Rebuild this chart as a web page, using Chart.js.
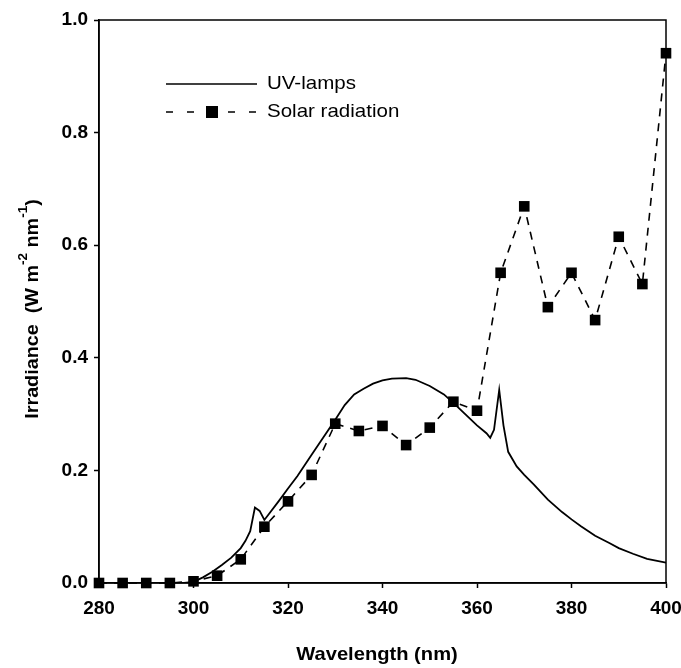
<!DOCTYPE html>
<html>
<head>
<meta charset="utf-8">
<script src="https://cdn.jsdelivr.net/npm/chart.js@4/dist/chart.umd.min.js"></script>
<style>
html,body{margin:0;padding:0;background:#fff;}
#wrap{width:681px;height:668px;position:relative;}
</style>
</head>
<body>
<div id="wrap"><canvas id="c" width="681" height="668"></canvas></div>
<script>
// Solar radiation (markers every 5 nm)
const solarWavelengths = [280,285,290,295,300,305,310,315,320,325,330,335,340,345,350,355,360,365,370,375,380,385,390,395,400];
const solarIrradiance  = [0,0,0,0,0.003,0.013,0.042,0.10,0.145,0.192,0.283,0.27,0.279,0.245,0.276,0.322,0.306,0.551,0.669,0.49,0.551,0.467,0.615,0.531,0.941];

// UV-lamps spectrum (continuous line)
const uvWavelengths = [280,285,290,295,298,300,302,304,306,308,310,311,312,313,314,315,318,320,322,325,328,330,332,334,336,338,340,342,345,347,350,353,355,358,360,362,362.8,363.6,364.7,365.6,366.6,368.4,370,372,375,378,380,382,385,388,390,393,396,400];
const uvIrradiance  = [0,0,0,0,0,0.002,0.01,0.02,0.032,0.045,0.062,0.075,0.092,0.134,0.128,0.112,0.145,0.168,0.19,0.228,0.265,0.29,0.316,0.335,0.345,0.354,0.36,0.363,0.364,0.361,0.35,0.335,0.32,0.296,0.28,0.266,0.258,0.272,0.343,0.28,0.233,0.207,0.192,0.175,0.148,0.126,0.113,0.101,0.084,0.071,0.062,0.052,0.043,0.036];

const xTicks = [280,300,320,340,360,380,400];
const yTicks = [0.0,0.2,0.4,0.6,0.8,1.0];
const seriesNames = ['UV-lamps','Solar radiation'];

const PLOT_LEFT = 99, PLOT_BOTTOM = 583;
const FONT = '"Liberation Sans", Arial, sans-serif';

const decor = {
  id:'decor',
  afterDraw(chart){
    const ctx = chart.ctx, a = chart.chartArea;
    ctx.save();
    // frame
    ctx.strokeStyle='#000'; ctx.lineWidth=1.5;
    ctx.strokeRect(a.left, a.top, a.right-a.left, a.bottom-a.top);
    // x title
    ctx.fillStyle='#000';
    ctx.save();
    ctx.translate(377, 655);
    ctx.scale(1.06, 1);
    ctx.font='bold 19px ' + FONT;
    ctx.textAlign='center'; ctx.textBaseline='middle';
    ctx.fillText('Wavelength (nm)', 0, 0);
    ctx.restore();
    // y title with superscripts
    ctx.save();
    ctx.translate(33, 309);
    ctx.rotate(-Math.PI/2);
    ctx.scale(1.04, 1);
    const parts = [
      ['Irradiance  (W m',false],['-2',true],[' nm',false],['-1',true],[')',false]
    ];
    const big='bold 19px ' + FONT;
    const small='bold 13px ' + FONT;
    let total=0;
    parts.forEach(p=>{ctx.font=p[1]?small:big; total+=ctx.measureText(p[0]).width;});
    let x=-total/2;
    ctx.textAlign='left'; ctx.textBaseline='middle';
    parts.forEach(p=>{
      ctx.font=p[1]?small:big;
      ctx.fillText(p[0], x, p[1]?-10:0);
      x+=ctx.measureText(p[0]).width;
    });
    ctx.restore();
    // legend
    ctx.lineWidth=1.6; ctx.strokeStyle='#000';
    ctx.beginPath(); ctx.moveTo(166,84); ctx.lineTo(257,84); ctx.stroke();
    ctx.setLineDash([7,14]);
    ctx.beginPath(); ctx.moveTo(166,112); ctx.lineTo(204,112); ctx.stroke();
    ctx.beginPath(); ctx.moveTo(228,112); ctx.lineTo(257,112); ctx.stroke();
    ctx.setLineDash([]);
    ctx.fillRect(206,106,12,12);
    ctx.textAlign='left'; ctx.textBaseline='middle';
    ctx.save();
    ctx.translate(267, 0);
    ctx.scale(1.08, 1);
    ctx.font='19px ' + FONT;
    ctx.fillText(seriesNames[0], 0, 84);
    ctx.fillText(seriesNames[1], 0, 112);
    ctx.restore();
    ctx.restore();
  }
};

new Chart(document.getElementById('c'), {
  type:'line',
  data:{
    datasets:[
      {
        label:seriesNames[0],
        data:uvWavelengths.map((w,i)=>({x:w,y:uvIrradiance[i]})),
        borderColor:'#000', borderWidth:1.8, pointRadius:0, tension:0, fill:false
      },
      {
        label:seriesNames[1],
        data:solarWavelengths.map((w,i)=>({x:w,y:solarIrradiance[i]})),
        borderColor:'#000', borderWidth:1.6, borderDash:[8,7],
        pointStyle:'rect', pointRadius:7.5, pointBackgroundColor:'#000', pointBorderColor:'#000', pointBorderWidth:0,
        tension:0, fill:false, clip:false
      }
    ]
  },
  options:{
    responsive:false, animation:false,
    layout:{padding:{left:0,right:15,top:20,bottom:0}},
    plugins:{legend:{display:false}, tooltip:{enabled:false}},
    scales:{
      x:{
        type:'linear', min:280, max:400,
        afterBuildTicks(s){ s.ticks = xTicks.map(v=>({value:v})); },
        afterFit(s){ s.height = 668 - PLOT_BOTTOM; s.paddingLeft = 0; s.paddingRight = 0; },
        grid:{drawOnChartArea:false, drawTicks:true, tickLength:5, tickColor:'#000', tickWidth:1.5},
        border:{display:true,color:'#000',width:1.5},
        ticks:{color:'#000', padding:9, maxRotation:0, font:{family:FONT, size:19, weight:'bold'}}
      },
      y:{
        type:'linear', min:0, max:1.0,
        afterBuildTicks(s){ s.ticks = yTicks.map(v=>({value:v})); },
        afterFit(s){ s.width = PLOT_LEFT; s.paddingTop = 0; s.paddingBottom = 0; },
        grid:{drawOnChartArea:false, drawTicks:true, tickLength:5, tickColor:'#000', tickWidth:1.5},
        border:{display:true,color:'#000',width:1.5},
        ticks:{color:'#000', padding:6, callback:v=>Number(v).toFixed(1), font:{family:FONT, size:19, weight:'bold'}}
      }
    }
  },
  plugins:[decor]
});
</script>
</body>
</html>
